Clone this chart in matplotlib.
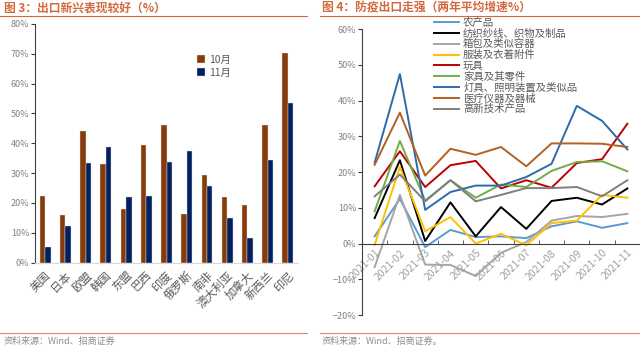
import numpy as np
import matplotlib
matplotlib.use('Agg')
import matplotlib.pyplot as plt
from matplotlib.lines import Line2D
from matplotlib.ticker import PercentFormatter

plt.rcParams['font.family'] = ['Noto Sans CJK SC', 'DejaVu Sans']

# 图3 数据
countries = ['美国', '日本', '欧盟', '韩国', '东盟', '巴西', '印度', '俄罗斯',
             '南非', '澳大利亚', '加拿大', '新西兰', '印尼']
oct_vals = [22.4, 16.0, 44.2, 33.0, 17.9, 39.3, 46.3, 16.2, 29.3, 22.1, 19.2, 46.0, 70.3]
nov_vals = [5.1, 12.3, 33.3, 38.8, 22.1, 22.5, 33.9, 37.4, 25.8, 14.9, 8.2, 34.3, 53.5]

# 图4 数据
months = ['2021-01', '2021-02', '2021-03', '2021-04', '2021-05', '2021-06',
          '2021-07', '2021-08', '2021-09', '2021-10', '2021-11']
series_names = ['农产品', '纺织纱线、织物及制品', '箱包及类似容器', '服装及衣着附件', '玩具',
                '家具及其零件', '灯具、照明装置及类似品', '医疗仪器及器械', '高新技术产品']
agri = [2.0, 12.5, -1.0, 3.8, 1.8, 2.0, 1.5, 4.8, 6.2, 4.4, 5.7]
textile = [7.1, 23.3, 0.7, 11.5, 2.0, 10.2, 4.1, 11.9, 12.8, 10.9, 15.4]
bags = [-6.6, 13.6, -5.9, -6.0, -9.1, -2.6, 0.4, 6.4, 7.7, 7.4, 8.3]
clothing = [-0.4, 21.4, 3.4, 7.4, 0.0, 2.7, -0.5, 5.7, 6.4, 13.6, 12.8]
toys = [16.0, 25.8, 15.8, 21.9, 23.1, 15.4, 17.7, 15.6, 22.5, 23.6, 33.5]
furniture = [9.0, 28.7, 12.0, 17.7, 12.8, 16.5, 15.8, 20.3, 22.8, 23.0, 20.2]
lamps = [22.6, 47.4, 9.4, 14.4, 16.2, 16.2, 18.6, 22.3, 38.5, 34.3, 26.3]
medical = [22.0, 36.6, 19.0, 26.5, 24.8, 27.0, 21.6, 28.0, 28.0, 27.9, 27.0]
hightech = [13.2, 19.3, 11.8, 17.7, 11.8, 13.6, 15.5, 15.5, 15.8, 13.2, 17.7]

series_vals = [agri, textile, bags, clothing, toys, furniture, lamps, medical, hightech]
series_colors = ['#5B9BD5', '#000000', '#A5A5A5', '#FFC000', '#C00000',
                 '#70AD47', '#2E6BA8', '#B4601E', '#7F7F7F']

title_color = '#D2693C'
tick_color = '#808080'

fig = plt.figure(figsize=(6.4, 3.47), dpi=100)

# 标题和分隔线
fig.text(0.006, 0.978, '图 3：出口新兴表现较好（%）', color=title_color,
         fontsize=8.5, fontweight='bold', va='center', ha='left')
fig.text(0.503, 0.978, '图 4：防疫出口走强（两年平均增速%）', color=title_color,
         fontsize=8.5, fontweight='bold', va='center', ha='left')
for x0, x1 in [(0.0, 0.48), (0.5, 1.0)]:
    fig.add_artist(Line2D([x0, x1], [0.955, 0.955], color=title_color, lw=0.8,
                          transform=fig.transFigure))
    fig.add_artist(Line2D([x0, x1], [0.041, 0.041], color=title_color, lw=0.8,
                          transform=fig.transFigure, alpha=0.8))
fig.text(0.006, 0.017, '资料来源：Wind、招商证券', color='#8c8c8c', fontsize=6.5,
         va='center', ha='left')
fig.text(0.503, 0.017, '资料来源：Wind、招商证券。', color='#8c8c8c', fontsize=6.5,
         va='center', ha='left')

# 左图：柱状图
ax1 = fig.add_axes([0.0547, 0.243, 0.411, 0.688])
x = np.arange(len(countries))
w = 0.27
ax1.bar(x - w / 2, oct_vals, w, color='#843C0C', edgecolor='#f0e0d8', linewidth=0.3, label='10月')
ax1.bar(x + w / 2, nov_vals, w, color='#002060', edgecolor='#d8dce8', linewidth=0.3, label='11月')
ax1.set_xlim(-0.5, len(countries) - 0.5)
ax1.set_ylim(0, 80)
ax1.set_yticks(np.arange(0, 81, 10))
ax1.yaxis.set_major_formatter(PercentFormatter(decimals=0))
ax1.set_xticks(x)
ax1.set_xticklabels(countries, rotation=45, ha='right', rotation_mode='anchor',
                    fontsize=8.2, color='#595959')
ax1.tick_params(axis='x', length=0, pad=5)
ax1.tick_params(axis='y', labelsize=6.5, labelcolor=tick_color, color='#404040',
                length=3, width=0.8, pad=1)
for s in ['top', 'right']:
    ax1.spines[s].set_visible(False)
ax1.spines['left'].set_color('#404040')
ax1.spines['bottom'].set_color('#d9d9d9')
ax1.legend(loc='upper left', bbox_to_anchor=(0.58, 0.91), frameon=False, fontsize=7.5,
           handlelength=0.8, handleheight=0.8, handletextpad=0.4, labelspacing=0.3,
           labelcolor='#595959')

# 右图：折线图
ax2 = fig.add_axes([0.5656, 0.0922, 0.4344, 0.8242])
ax2.spines['bottom'].set_position(('data', 0))
ax2.spines['bottom'].set_color('#404040')
ax2.spines['left'].set_color('#404040')
for s in ['top', 'right']:
    ax2.spines[s].set_visible(False)
xm = np.arange(len(months))
for name, vals, c in zip(series_names, series_vals, series_colors):
    ax2.plot(xm, vals, color=c, lw=1.4, label=name)
ax2.set_xlim(-0.5, len(months) - 0.5)
ax2.set_ylim(-20, 60)
ax2.set_yticks(np.arange(-20, 61, 10))
ax2.yaxis.set_major_formatter(PercentFormatter(decimals=0))
ax2.set_xticks(xm)
ax2.set_xticklabels(months, rotation=45, ha='right', rotation_mode='anchor',
                    fontsize=7.5, color='#a0a0a0')
ax2.set_xticks(np.arange(-0.5, len(months), 1), minor=True)
ax2.tick_params(axis='x', which='major', length=0, pad=3)
ax2.tick_params(axis='x', which='minor', length=3, direction='in', color='#404040')
ax2.tick_params(axis='y', labelsize=6.5, labelcolor=tick_color, color='#404040',
                length=3, width=0.8, pad=1)
ax2.legend(loc='upper left', bbox_to_anchor=(0.225, 1.072), frameon=False, fontsize=7.5,
           handlelength=2.4, handletextpad=0.4, labelspacing=0.06, labelcolor='#595959')

fig.savefig('out.png', dpi=100)
